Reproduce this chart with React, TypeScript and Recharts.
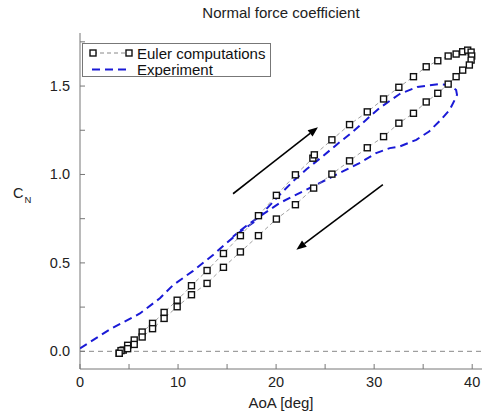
import {
  ComposedChart,
  Legend,
  Label,
  ReferenceLine,
  Scatter,
  XAxis,
  YAxis,
} from "recharts";

// Euler computations: one pitching cycle, upstroke then downstroke
const eulerAoa = [
  4.0, 4.41, 4.86, 5.53, 6.34, 7.4, 8.58, 9.91, 11.37, 12.96, 14.63, 16.36,
  18.2, 20.03, 21.97, 23.75, 23.9, 25.69, 27.49, 29.3, 30.96, 32.52, 34.01,
  35.31, 36.49, 37.55, 38.36, 39.03, 39.54, 39.89, 39.95, 39.89, 39.71, 39.03,
  38.36, 37.55, 36.49, 35.31, 34.01, 32.52, 30.96, 29.3, 27.49, 25.69, 23.83,
  21.97, 20.03, 18.2, 16.36, 14.63, 12.96, 11.37, 9.91, 8.58, 7.4, 6.34, 5.53,
  4.86, 4.18, 4.0,
];
const eulerCn = [
  -0.011, 0.007, 0.034, 0.064, 0.109, 0.158, 0.22, 0.289, 0.371, 0.457, 0.553,
  0.654, 0.767, 0.882, 0.998, 1.092, 1.111, 1.196, 1.282, 1.354, 1.427, 1.493,
  1.553, 1.609, 1.643, 1.67, 1.681, 1.694, 1.703, 1.692, 1.67, 1.647, 1.619,
  1.59, 1.553, 1.511, 1.459, 1.41, 1.346, 1.29, 1.214, 1.151, 1.077, 1.002,
  0.923, 0.829, 0.748, 0.654, 0.562, 0.475, 0.384, 0.32, 0.252, 0.186, 0.128,
  0.081, 0.039, 0.015, 0.004, -0.011,
];

// Experiment
const expAoa = [
  0.0, 3.05, 6.11, 8.15, 9.5, 11.54, 13.57, 14.94, 16.29, 17.99, 18.67, 20.37,
  21.7, 23.1, 24.7, 26.2, 27.8, 29.2, 30.55, 32.6, 34.4, 36.5, 37.7, 38.36,
  38.45, 38.2, 37.7, 36.8, 35.6, 34.3, 32.6, 31.6, 30.2, 28.5, 26.8, 25.1,
  23.76, 22.07, 20.37, 18.33, 16.98, 16.3, 15.6,
];
const expCn = [
  0.017, 0.124, 0.214, 0.3, 0.375, 0.455, 0.545, 0.612, 0.675, 0.74, 0.785,
  0.885, 0.96, 1.03, 1.1, 1.17, 1.24, 1.31, 1.376, 1.455, 1.495, 1.51, 1.506,
  1.478, 1.45, 1.42, 1.365, 1.309, 1.243, 1.196, 1.158, 1.149, 1.121, 1.064,
  1.017, 0.97, 0.932, 0.886, 0.839, 0.763, 0.71, 0.68, 0.648,
];

// arrows: [aoaStart, cnStart, aoaEnd, cnEnd]
const arrows = [
  [15.61, 0.891, 24.27, 1.267],
  [30.89, 0.942, 22.07, 0.575],
];

const xTicks = [0, 5, 10, 15, 20, 25, 30, 35, 40];
const yTicks = [0, 0.25, 0.5, 0.75, 1.0, 1.25, 1.5, 1.75];

const euler = eulerAoa.map((a, i) => ({ aoa: a, cn: eulerCn[i] }));
const experiment = expAoa.map((a, i) => ({ aoa: a, cn: expCn[i] }));

const FONT = "'Liberation Sans', Arial, Helvetica, sans-serif";
const FRAME = "#777";

const Square = (props: any) => {
  const { cx, cy } = props;
  if (cx == null || cy == null) return <g />;
  return (
    <rect
      x={cx - 3}
      y={cy - 3}
      width={6}
      height={6}
      fill="#fff"
      stroke="#111"
      strokeWidth={1.4}
    />
  );
};

const BottomTick = (props: any) => {
  const { x, y, payload } = props;
  const v = payload.value;
  return (
    <g>
      <line x1={x} y1={y} x2={x} y2={y - 5} stroke={FRAME} />
      {v % 10 === 0 && (
        <text x={x} y={y + 18} textAnchor="middle" fontSize={14.5} fill="#222" fontFamily={FONT}>
          {v}
        </text>
      )}
    </g>
  );
};

const TopTick = (props: any) => {
  const { x, y } = props;
  return <line x1={x} y1={y} x2={x} y2={y + 5} stroke={FRAME} />;
};

const LeftTick = (props: any) => {
  const { x, y, payload } = props;
  const v = payload.value;
  return (
    <g>
      <line x1={x} y1={y} x2={x + 5} y2={y} stroke={FRAME} />
      {Math.abs(v * 2 - Math.round(v * 2)) < 1e-6 && (
        <text x={x - 10} y={y + 5} textAnchor="end" fontSize={14.5} fill="#222" fontFamily={FONT}>
          {v.toFixed(1)}
        </text>
      )}
    </g>
  );
};

const RightTick = (props: any) => {
  const { x, y } = props;
  return <line x1={x} y1={y} x2={x - 5} y2={y} stroke={FRAME} />;
};

const Arrow = (props: any) => {
  const { x1, y1, x2, y2 } = props;
  const ang = Math.atan2(y2 - y1, x2 - x1);
  const len = 10;
  const w = 4;
  const bx = x2 - len * Math.cos(ang);
  const by = y2 - len * Math.sin(ang);
  const px = -Math.sin(ang) * w;
  const py = Math.cos(ang) * w;
  return (
    <g>
      <line x1={x1} y1={y1} x2={bx} y2={by} stroke="#000" strokeWidth={1.6} />
      <polygon
        points={`${x2},${y2} ${bx + px},${by + py} ${bx - px},${by - py}`}
        fill="#000"
      />
    </g>
  );
};

const LegendBox = () => (
  <svg width={190} height={36} style={{ display: "block" }}>
    <rect x={0.5} y={2.5} width={188} height={33} fill="#fff" stroke={FRAME} />
    <line x1={11} y1={12} x2={47} y2={12} stroke="#888" strokeDasharray="4 3" />
    <rect x={8} y={9} width={6} height={6} fill="#fff" stroke="#111" strokeWidth={1.4} />
    <rect x={44} y={9} width={6} height={6} fill="#fff" stroke="#111" strokeWidth={1.4} />
    <text x={55} y={17.5} fontSize={15} fill="#111" fontFamily={FONT}>
      Euler computations
    </text>
    <line x1={10} y1={28.5} x2={48} y2={28.5} stroke="#1a1ad6" strokeWidth={2} strokeDasharray="8 5" />
    <text x={55} y={33.5} fontSize={15} fill="#111" fontFamily={FONT}>
      Experiment
    </text>
  </svg>
);

export default function App() {
  return (
    <div
      style={{
        position: "absolute",
        left: 0,
        top: 0,
        width: 485,
        height: 416,
        background: "#fff",
        fontFamily: FONT,
      }}
    >
      <div
        style={{
          position: "absolute",
          left: 0,
          width: 562,
          top: 4,
          textAlign: "center",
          fontSize: 15,
          color: "#222",
        }}
      >
        Normal force coefficient
      </div>
      <ComposedChart
        width={485}
        height={416}
        margin={{ top: 33, right: 3, bottom: 0, left: 0 }}
      >
        <XAxis
          xAxisId="b"
          type="number"
          dataKey="aoa"
          domain={[0, 41]}
          ticks={xTicks}
          interval={0}
          tickSize={0}
          tickMargin={0}
          height={47}
          stroke={FRAME}
          tick={<BottomTick />}
          allowDataOverflow
        >
          <Label
            value="AoA [deg]"
            position="insideBottom"
            offset={8}
            style={{ fontSize: 15, fill: "#222", fontFamily: FONT }}
          />
        </XAxis>
        <XAxis
          xAxisId="t"
          orientation="top"
          type="number"
          dataKey="aoa"
          domain={[0, 41]}
          ticks={xTicks}
          interval={0}
          tickSize={0}
          tickMargin={0}
          height={0}
          stroke={FRAME}
          tick={<TopTick />}
          allowDataOverflow
        />
        <YAxis
          yAxisId="l"
          type="number"
          dataKey="cn"
          domain={[-0.1, 1.8]}
          ticks={yTicks}
          interval={0}
          tickSize={0}
          tickMargin={0}
          width={80}
          stroke={FRAME}
          tick={<LeftTick />}
          allowDataOverflow
        >
          <Label
            content={() => (
              <text x={13} y={198} fontSize={14.5} fill="#222" fontFamily={FONT}>
                C
                <tspan dx={1} dy={5} fontSize={9.5}>
                  N
                </tspan>
              </text>
            )}
          />
        </YAxis>
        <YAxis
          yAxisId="r"
          orientation="right"
          type="number"
          dataKey="cn"
          domain={[-0.1, 1.8]}
          ticks={yTicks}
          interval={0}
          tickSize={0}
          tickMargin={0}
          width={0}
          stroke={FRAME}
          tick={<RightTick />}
          allowDataOverflow
        />
        <ReferenceLine
          xAxisId="b"
          yAxisId="l"
          y={0}
          stroke="#888"
          strokeDasharray="5 4"
        />
        {arrows.map((a, i) => (
          <ReferenceLine
            key={i}
            xAxisId="b"
            yAxisId="l"
            segment={[
              { x: a[0], y: a[1] },
              { x: a[2], y: a[3] },
            ]}
            shape={<Arrow />}
          />
        ))}
        <Scatter
          xAxisId="b"
          yAxisId="l"
          name="Experiment"
          data={experiment}
          line={{ stroke: "#1a1ad6", strokeWidth: 2, strokeDasharray: "8 5" }}
          lineType="joint"
          shape={() => <g />}
          isAnimationActive={false}
        />
        <Scatter
          xAxisId="b"
          yAxisId="l"
          name="Euler computations"
          data={euler}
          line={{ stroke: "#888", strokeWidth: 0.8, strokeDasharray: "4 3" }}
          lineType="joint"
          shape={<Square />}
          isAnimationActive={false}
        />
        <Legend
          layout="vertical"
          align="center"
          verticalAlign="middle"
          wrapperStyle={{ left: 82, top: 41, width: 190, height: 36 }}
          content={() => <LegendBox />}
        />
      </ComposedChart>
    </div>
  );
}
